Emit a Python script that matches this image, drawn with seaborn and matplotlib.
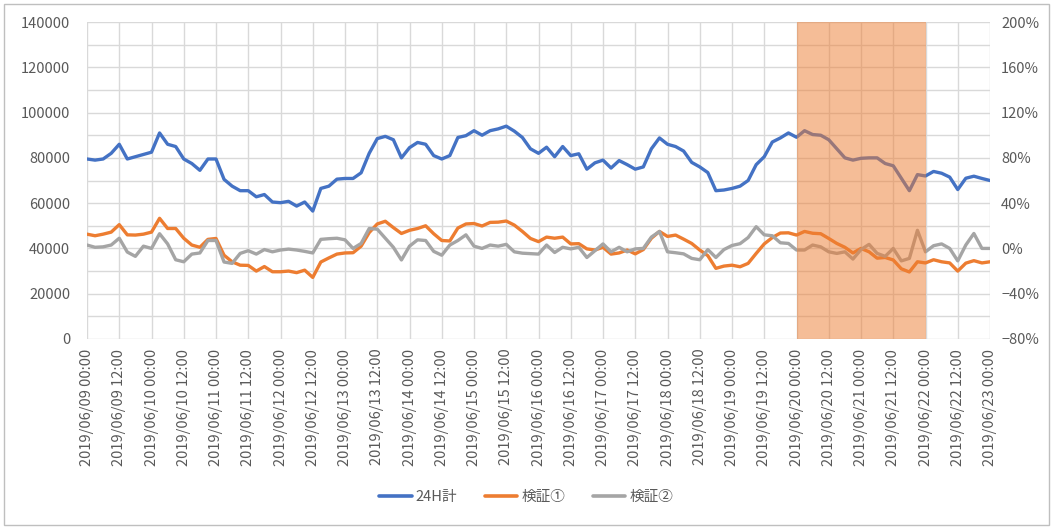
import pandas as pd
import matplotlib
matplotlib.use("Agg")
import matplotlib.pyplot as plt
import matplotlib.dates as mdates
from matplotlib.ticker import MultipleLocator, PercentFormatter, FuncFormatter
from matplotlib.patches import Rectangle
import seaborn as sns

sns.set_theme(style="white")
plt.rcParams["font.family"] = ["Noto Sans CJK JP", "DejaVu Sans"]

# 3-hourly samples from 2019/06/09 00:00 to 2019/06/23 00:00
start = "2019-06-09 00:00"
end = "2019-06-23 00:00"
step = "3h"

series_names = ["24H計", "検証①", "検証②"]

total_24h = [
    79500, 79000, 79500, 82000, 86000, 79500, 80500, 81500, 82500, 91000,
    86000, 85000, 79500, 77500, 74500, 79500, 79500, 70500, 67500, 65500,
    65500, 62800, 63800, 60500, 60200, 60800, 58700, 60500, 56500, 66500,
    67500, 70600, 70900, 70900, 73400, 82000, 88500, 89500, 88000,
    80000, 84500, 86800, 86000, 81000, 79500, 81000, 89000, 89800, 92000,
    90000, 92000, 92800, 94000, 91800, 89000, 84000, 82000, 84700,
    80500, 85000, 81000, 81800, 75000, 77800, 79000, 75500, 78800, 77000,
    75000, 76000, 84000, 88800, 86000, 85000, 83000, 78000, 76000,
    73500, 65500, 65800, 66500, 67500, 70000, 77000, 80500, 87000, 88800,
    91000, 89100, 92000, 90300, 90000, 88000, 84000, 80000, 79000,
    79800, 80000, 80000, 77500, 76500, 71000, 65500, 72600, 72000, 74000,
    73200, 71500, 66000, 71000, 71900, 70900, 70000,
]

kensho1 = [
    46300, 45600, 46300, 47200, 50500, 46000, 45900, 46300, 47200, 53300,
    48800, 48800, 44500, 41500, 40500, 44000, 44400, 37000, 34100, 32600,
    32500, 30000, 32000, 29700, 29700, 30000, 29300, 30400, 27200, 34000,
    35800, 37500, 38000, 38100, 41000, 47000, 50800, 52000, 49200,
    46600, 48000, 48800, 50000, 46500, 43500, 43300, 49000, 50800, 51000,
    49900, 51500, 51600, 52100, 50300, 47500, 44400, 43000, 45000,
    44500, 45000, 42000, 42100, 39800, 39300, 40500, 37500, 38000, 39300,
    37600, 39500, 44500, 47500, 45300, 45900, 44100, 42200, 39300,
    36800, 31200, 32200, 32600, 31900, 33400, 37800, 42000, 44800, 46800,
    46900, 45900, 47500, 46700, 46500, 44400, 42200, 40500, 38000,
    40000, 38500, 35700, 36000, 34900, 31000, 29600, 34100, 33600, 35000,
    34100, 33600, 30000, 33500, 34600, 33600, 34100,
]

# 検証② is a rate in percent, read against the right-hand axis
kensho2_pct = [
    3, 1, 1.4, 3, 9, -3.2, -7, 2, 0, 13,
    4, -10, -11.8, -5, -4, 7, 7, -12, -13.2, -4.4,
    -2, -5, -1, -3, -1.4, -0.6, -1.4, -2.6, -4, 8,
    8.6, 9, 7.6, 0, 4.4, 17.6, 17, 9, 1,
    -10.2, 2, 7.6, 7, -2.6, -6, 3, 7, 12, 2,
    0, 3, 2, 3.6, -3, -4.2, -4.6, -5, 3,
    -3.6, 1, -0.4, 1, -8, -2, 4, -3, 1, -3,
    -0.4, 0, 10, 15, -3, -3.8, -4.8, -8.8, -10,
    -1, -8, -1, 2.6, 4.2, 9.6, 19.2, 12, 11.2, 5,
    4.4, -1.4, -1.4, 3, 1.4, -3, -4.4, -3, -9.4,
    -1, 3.6, -4.4, -7, 0, -11, -8.8, 16, -3, 2.4,
    4, 0, -11, 3, 13.2, 0, 0,
]

highlight_start = "2019-06-20 00:00"
highlight_end = "2019-06-22 00:00"

left_ticks = [0, 20000, 40000, 60000, 80000, 100000, 120000, 140000]
right_ticks = [-80, -40, 0, 40, 80, 120, 160, 200]

colors = {"24H計": "#4472C4", "検証①": "#ED7D31", "検証②": "#A5A5A5"}
text_color = "#595959"
grid_color = "#D9D9D9"

times = pd.date_range(start, end, freq=step)
df = pd.DataFrame({
    "time": times,
    "24H計": total_24h,
    "検証①": kensho1,
    "検証②": [v / 100 for v in kensho2_pct],
})

W, H = 1053, 529
fig = plt.figure(figsize=(W / 100, H / 100), dpi=100)
fig.patch.set_facecolor("white")
ax = fig.add_axes([87 / W, 1 - 339 / H, (990 - 87) / W, (339 - 22) / H])
ax2 = ax.twinx()

lw = 2.4
sns.lineplot(data=df, x="time", y="24H計", ax=ax, color=colors["24H計"],
             linewidth=lw, legend=False, zorder=3)
sns.lineplot(data=df, x="time", y="検証①", ax=ax, color=colors["検証①"],
             linewidth=lw, legend=False, zorder=3)
sns.lineplot(data=df, x="time", y="検証②", ax=ax2, color=colors["検証②"],
             linewidth=lw, legend=False, zorder=3)

# translucent highlight over the two-day window
ax2.axvspan(pd.Timestamp(highlight_start), pd.Timestamp(highlight_end),
            color="#ED7D31", alpha=0.5, lw=0, zorder=5)

ax.set_xlim(times[0], times[-1])
ax.set_ylim(0, 140000)
ax2.set_ylim(-0.8, 2.0)

ax.set_yticks(left_ticks)
ax.yaxis.set_minor_locator(MultipleLocator(10000))
ax.yaxis.set_major_formatter(FuncFormatter(lambda v, p: f"{int(v)}"))
ax2.set_yticks([t / 100 for t in right_ticks])
ax2.yaxis.set_major_formatter(PercentFormatter(1.0, decimals=0))

ax.xaxis.set_major_locator(mdates.HourLocator(byhour=[0, 12]))
ax.xaxis.set_major_formatter(mdates.DateFormatter("%Y/%m/%d %H:%M"))

ax.grid(True, which="major", axis="x", color=grid_color, lw=1)
ax.grid(True, which="both", axis="y", color=grid_color, lw=1)
ax.set_axisbelow(True)
ax2.grid(False)

for a in (ax, ax2):
    for s in a.spines.values():
        s.set_visible(False)
    a.set_xlabel("")
    a.set_ylabel("")

fs = 10.5
ax.tick_params(axis="y", which="both", length=0, pad=12, labelsize=fs,
               labelcolor=text_color)
ax.tick_params(axis="x", length=0, pad=7, labelsize=fs, labelcolor=text_color,
               labelrotation=90)
ax2.tick_params(axis="y", length=0, pad=8, labelsize=fs, labelcolor=text_color)

handles = [plt.Line2D([], [], color=colors[n], lw=2.6) for n in series_names]
fig.legend(handles, series_names, loc="center", bbox_to_anchor=(0.5, 1 - 497 / H),
           ncol=3, frameon=False, fontsize=fs, labelcolor=text_color,
           handlelength=2.2, columnspacing=1.9, handletextpad=0.3)

fig.patches.append(Rectangle((4 / W, 4 / H), (W - 8) / W, (H - 8) / H,
                             transform=fig.transFigure, fill=False,
                             edgecolor="#BFBFBF", lw=1))

fig.savefig("out.png", dpi=100, facecolor="white")
